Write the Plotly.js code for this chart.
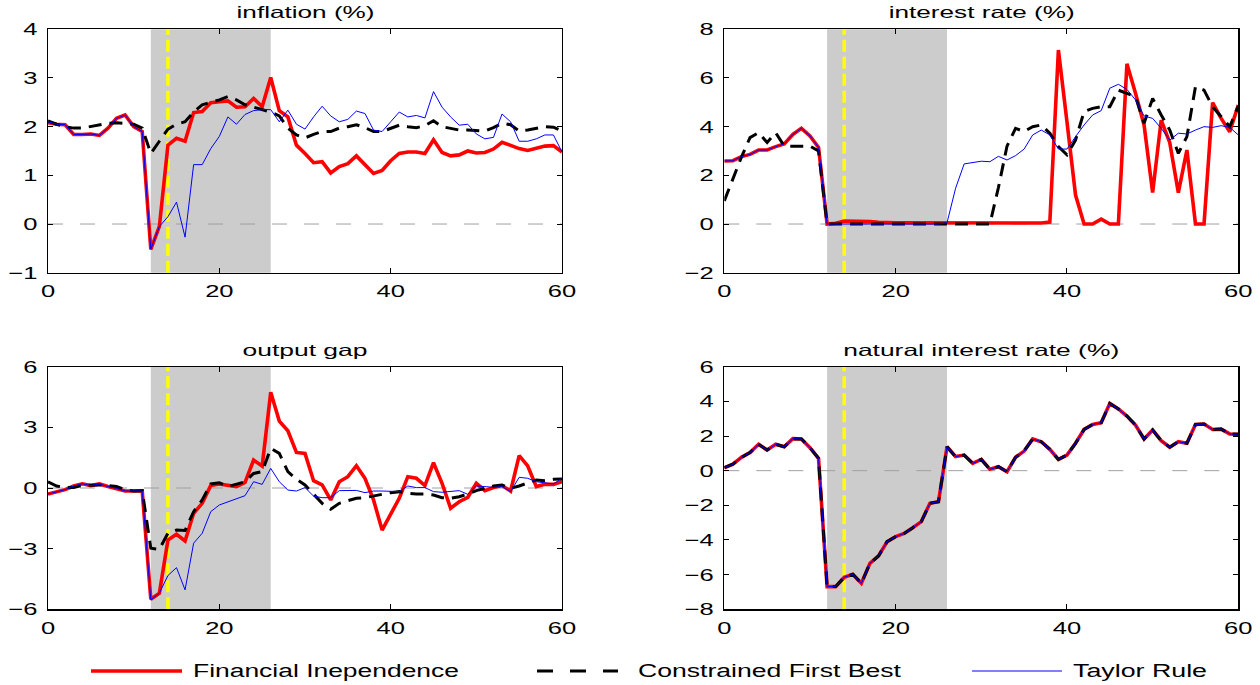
<!DOCTYPE html>
<html>
<head>
<meta charset="utf-8">
<script src="https://cdn.plot.ly/plotly-3.0.1.min.js"></script>
<style>
html,body{margin:0;padding:0;background:#fff;}
#plot{width:1260px;height:685px;}
</style>
</head>
<body>
<div id="plot"></div>
<script>
// ---------- data ----------
const periods = [0,1,2,3,4,5,6,7,8,9,10,11,12,13,14,15,16,17,18,19,20,21,22,23,24,25,26,27,28,29,30,31,32,33,34,35,36,37,38,39,40,41,42,43,44,45,46,47,48,49,50,51,52,53,54,55,56,57,58,59,60];

const seriesNames = ['Financial Inependence', 'Constrained First Best', 'Taylor Rule'];
const panelTitles = ['inflation (%)', 'interest rate (%)', 'output gap', 'natural interest rate (%)'];

// inflation (%)
const inflFI  = [2.08,2.05,2.04,1.84,1.84,1.85,1.82,1.97,2.17,2.24,2.0,1.9,-0.52,-0.05,1.62,1.76,1.70,2.29,2.31,2.49,2.51,2.53,2.4,2.41,2.58,2.41,3.01,2.33,2.2,1.62,1.45,1.26,1.28,1.05,1.18,1.24,1.40,1.23,1.04,1.10,1.30,1.45,1.48,1.48,1.45,1.73,1.47,1.40,1.42,1.50,1.46,1.47,1.54,1.68,1.61,1.55,1.51,1.55,1.60,1.61,1.48];
const inflCFB = [2.12,2.05,2.0,1.97,1.97,2.0,2.03,2.07,2.08,2.07,2.05,1.97,1.45,1.7,1.95,2.05,2.1,2.3,2.45,2.5,2.55,2.62,2.55,2.45,2.4,2.35,2.3,2.22,1.97,1.83,1.77,1.84,1.9,1.9,1.97,2.0,2.04,1.98,1.9,1.9,1.97,2.03,2.0,1.98,2.02,2.12,2.0,1.97,1.93,1.93,1.92,1.91,1.98,2.07,2.04,1.91,1.93,1.97,2.0,1.99,1.91];
const inflTR  = [2.1,2.05,2.04,1.84,1.84,1.85,1.82,1.97,2.17,2.24,2.0,1.9,-0.52,-0.05,0.15,0.45,-0.27,1.22,1.22,1.55,1.8,2.2,2.05,2.25,2.33,2.35,2.35,2.1,2.34,2.05,1.95,2.2,2.42,2.22,2.1,2.15,2.32,2.27,1.93,1.9,2.1,2.3,2.2,2.23,2.18,2.72,2.4,2.2,2.03,2.05,1.85,1.75,1.78,2.26,2.1,1.7,1.7,1.75,1.83,1.83,1.48];

// interest rate (%)
const rateFI  = [2.59,2.6,2.77,2.86,3.04,3.04,3.18,3.29,3.68,3.93,3.62,3.15,0,0.03,0.12,0.12,0.12,0.1,0.07,0.05,0.05,0.05,0.05,0.05,0.05,0.04,0.03,0.02,0.02,0.02,0.02,0.03,0.04,0.05,0.03,0.02,0.03,0.04,0.08,7.15,4.2,1.19,0,0,0.2,0,0,6.58,5.37,4.07,1.29,4.27,3.34,1.29,3.04,0,0,4.99,4.34,3.79,4.89];
const rateCFB = [0.95,1.85,2.75,3.55,3.75,3.35,3.75,3.2,3.2,3.2,3.2,3.0,0,0,0,0,0,0,0,0,0,0,0,0,0,0,0,0,0,0,0,0,1.5,3.2,3.93,3.8,4.0,4.07,3.73,3.18,2.84,3.45,4.62,4.75,4.82,4.82,5.5,5.37,5.23,4.14,5.16,4.48,3.86,2.9,3.59,5.64,5.5,4.82,4.41,4.0,4.85];
const rateTR  = [2.59,2.6,2.77,2.86,3.04,3.04,3.18,3.29,3.68,3.93,3.62,3.15,0,0,0,0,0,0,0,0,0,0,0,0,0,0,0.05,1.47,2.47,2.53,2.58,2.56,2.78,2.63,2.81,3.08,3.66,3.86,3.66,3.08,3.08,3.59,4.07,4.48,4.66,5.58,5.74,5.53,5.1,4.44,4.34,3.93,3.45,3.73,3.7,3.86,4.0,3.97,4.04,3.97,3.66];

// output gap
const gapFI  = [-0.3,-0.2,-0.08,0.1,0.21,0.12,0.2,0.07,-0.02,-0.15,-0.15,-0.15,-5.5,-5.2,-2.57,-2.29,-2.62,-1.25,-0.76,0.13,0.2,0.12,0.07,0.28,1.38,1.09,4.74,3.31,2.83,1.76,1.71,0.36,0.15,-0.59,0.31,0.56,1.1,0.48,-0.59,-2.08,-1.25,-0.51,0.56,0.48,0.12,1.25,0.23,-1.0,-0.68,-0.46,0.23,-0.13,0.02,0.12,-0.15,1.6,1.09,0.07,0.18,0.18,0.31];
const gapCFB = [0.31,0.1,0.02,0.03,0.12,0.13,0.15,0.12,0.07,-0.08,-0.15,-0.13,-2.98,-3.03,-2.24,-2.08,-2.1,-1.17,-0.59,0.2,0.26,0.07,0.2,0.31,0.72,0.81,1.96,1.71,0.81,0.43,0.15,-0.3,-0.76,-1.05,-0.76,-0.63,-0.51,-0.48,-0.4,-0.3,-0.23,-0.18,-0.26,-0.3,-0.3,-0.35,-0.48,-0.51,-0.43,-0.3,-0.13,-0.02,0.1,0.15,-0.02,0.1,0.26,0.4,0.36,0.43,0.45];
const gapTR  = [-0.3,-0.2,-0.08,0.1,0.21,0.12,0.2,0.07,-0.02,-0.15,-0.15,-0.15,-5.53,-5.2,-4.33,-3.94,-5.04,-2.73,-2.24,-1.17,-0.84,-0.68,-0.51,-0.38,0.31,0.18,0.97,0.31,-0.1,-0.15,0.02,-0.4,-0.48,-0.48,-0.13,-0.12,-0.12,-0.23,-0.15,-0.15,-0.18,-0.18,0.1,0.02,0.02,-0.18,-0.21,-0.18,-0.13,-0.31,0.1,0.07,0.03,0.07,-0.18,0.53,0.48,0.31,0.26,0.2,0.48];

// natural interest rate (%) — identical under all three regimes
const natFI  = [0.17,0.37,0.77,1.04,1.52,1.19,1.52,1.38,1.85,1.83,1.33,0.71,-6.69,-6.69,-6.15,-5.98,-6.5,-5.35,-4.92,-4.1,-3.81,-3.62,-3.29,-2.94,-1.88,-1.79,1.38,0.81,0.9,0.42,0.65,0.08,0.23,-0.06,0.77,1.13,1.83,1.67,1.23,0.65,0.9,1.58,2.38,2.67,2.77,3.88,3.56,3.15,2.63,1.83,2.35,1.73,1.35,1.67,1.58,2.67,2.69,2.38,2.4,2.12,2.1];
const natCFB = natFI;
const natTR  = natFI;

const yRanges = [[-1,4],[-2,8],[-6,6],[-8,6]];
const yDticks = [1,2,3,2];
const xTicks = [0,20,40,60];
const shockStart = 12, shockEnd = 26, announce = 14;

// ---------- figure ----------
const FONT = 'Liberation Sans, Arial, Helvetica, sans-serif';
const W = 1260, H = 685;
const xDom = [[48/W, 562/W],[724.3/W, 1238.3/W]];
const yDom = [[1-272.7/H, 1-29.3/H],[1-609.3/H, 1-366.7/H]];

const panels = [
  [inflFI, inflCFB, inflTR],
  [rateFI, rateCFB, rateTR],
  [gapFI, gapCFB, gapTR],
  [natFI, natCFB, natTR]
];
const styles = [
  {color:'#ff0000', width:3.6, dash:'solid'},
  {color:'#000000', width:3, dash:'13px,8px'},
  {color:'#0000ff', width:1, dash:'solid'}
];

const traces = [];
const layout = {
  width: W, height: H,
  margin: {l:0, r:0, t:0, b:0},
  paper_bgcolor: '#ffffff', plot_bgcolor: '#ffffff',
  showlegend: false,
  font: {family: FONT, size: 16, color: '#000'},
  shapes: [], annotations: []
};

panels.forEach((ser, p) => {
  const sfx = p === 0 ? '' : String(p + 1);
  const xa = 'x' + sfx, ya = 'y' + sfx;
  ser.forEach((vals, s) => {
    traces.push({
      x: periods, y: vals, xaxis: xa, yaxis: ya,
      type: 'scatter', mode: 'lines', name: seriesNames[s],
      line: {color: styles[s].color, width: styles[s].width, dash: styles[s].dash},
      hoverinfo: 'skip', showlegend: false
    });
  });
  const col = p % 2, row = Math.floor(p / 2);
  const axCommon = {
    showline: true, linecolor: '#000', linewidth: 1.2, mirror: 'ticks',
    ticks: 'inside', ticklen: 5, tickwidth: 1, tickcolor: '#000',
    showgrid: false, zeroline: false,
    tickfont: {family: FONT, size: 17, color: '#000'}
  };
  layout['xaxis' + sfx] = Object.assign({}, axCommon, {
    domain: xDom[col], anchor: ya, range: [0, 60],
    tickmode: 'array', tickvals: xTicks, ticktext: xTicks.map(String),
    ticklabelstandoff: 3
  });
  layout['yaxis' + sfx] = Object.assign({}, axCommon, {
    domain: yDom[row], anchor: xa, range: yRanges[p],
    tickmode: 'linear', tick0: yRanges[p][0], dtick: yDticks[p],
    ticklabelstandoff: 6
  });
  // shaded period
  layout.shapes.push({type:'rect', xref: xa, yref: ya + ' domain', x0: shockStart, x1: shockEnd, y0: 0, y1: 1,
    fillcolor: '#cccccc', line: {width: 0}, layer: 'below'});
  // zero reference line
  layout.shapes.push({type:'line', xref: xa + ' domain', yref: ya, x0: 0, x1: 1, y0: 0, y1: 0,
    line: {color: '#a0a0a0', width: 1, dash: '15px,17px'}, layer: 'below'});
  // announcement date
  layout.shapes.push({type:'line', xref: xa, yref: ya + ' domain', x0: announce, x1: announce, y0: 0, y1: 1,
    line: {color: '#ffff00', width: 3.5, dash: '12px,5px'}, layer: 'below'});
  // panel title
  layout.annotations.push({text: panelTitles[p], xref: 'paper', yref: 'paper',
    x: (xDom[col][0] + xDom[col][1]) / 2, y: yDom[row][1], xanchor: 'center', yanchor: 'bottom',
    yshift: 7, showarrow: false, align: 'center', borderpad: 0,
    font: {family: FONT, size: 16.5, color: '#000'}});
});

// legend (drawn at bottom, like the original)
const legY = 1 - 671 / H;
const legItems = [
  {x0: 91, x1: 182, tx: 192},
  {x0: 537, x1: 618, tx: 637},
  {x0: 972, x1: 1062, tx: 1072}
];
legItems.forEach((it, s) => {
  layout.shapes.push({type:'line', xref:'paper', yref:'paper', x0: it.x0 / W, x1: it.x1 / W, y0: legY, y1: legY,
    line: {color: styles[s].color, width: styles[s].width, dash: s === 1 ? '16px,17px' : 'solid'}});
  layout.annotations.push({text: seriesNames[s], xref:'paper', yref:'paper', x: it.tx / W, y: legY,
    xanchor:'left', yanchor:'middle', align:'left', showarrow:false, borderpad:0,
    font: {family: FONT, size: 18, color:'#000'}});
});

// widths of the (horizontally stretched) original text
const targetWidths = {
  'inflation (%)': 138, 'interest rate (%)': 186, 'output gap': 125, 'natural interest rate (%)': 276,
  'Financial Inependence': 266, 'Constrained First Best': 263, 'Taylor Rule': 134
};

Plotly.newPlot('plot', traces, layout, {staticPlot: true, displayModeBar: false}).then(gd => {
  try {
    gd.querySelectorAll('g[class*="tick"] > text').forEach(t => {
      const w = t.getComputedTextLength();
      if (w > 0) { t.setAttribute('textLength', (w * 1.5).toFixed(1)); t.setAttribute('lengthAdjust', 'spacingAndGlyphs'); }
    });
    gd.querySelectorAll('text.annotation-text').forEach(t => {
      const tw = targetWidths[t.textContent];
      if (tw) { t.setAttribute('textLength', String(tw)); t.setAttribute('lengthAdjust', 'spacingAndGlyphs'); }
    });
  } catch (e) {}
});
</script>
</body>
</html>
